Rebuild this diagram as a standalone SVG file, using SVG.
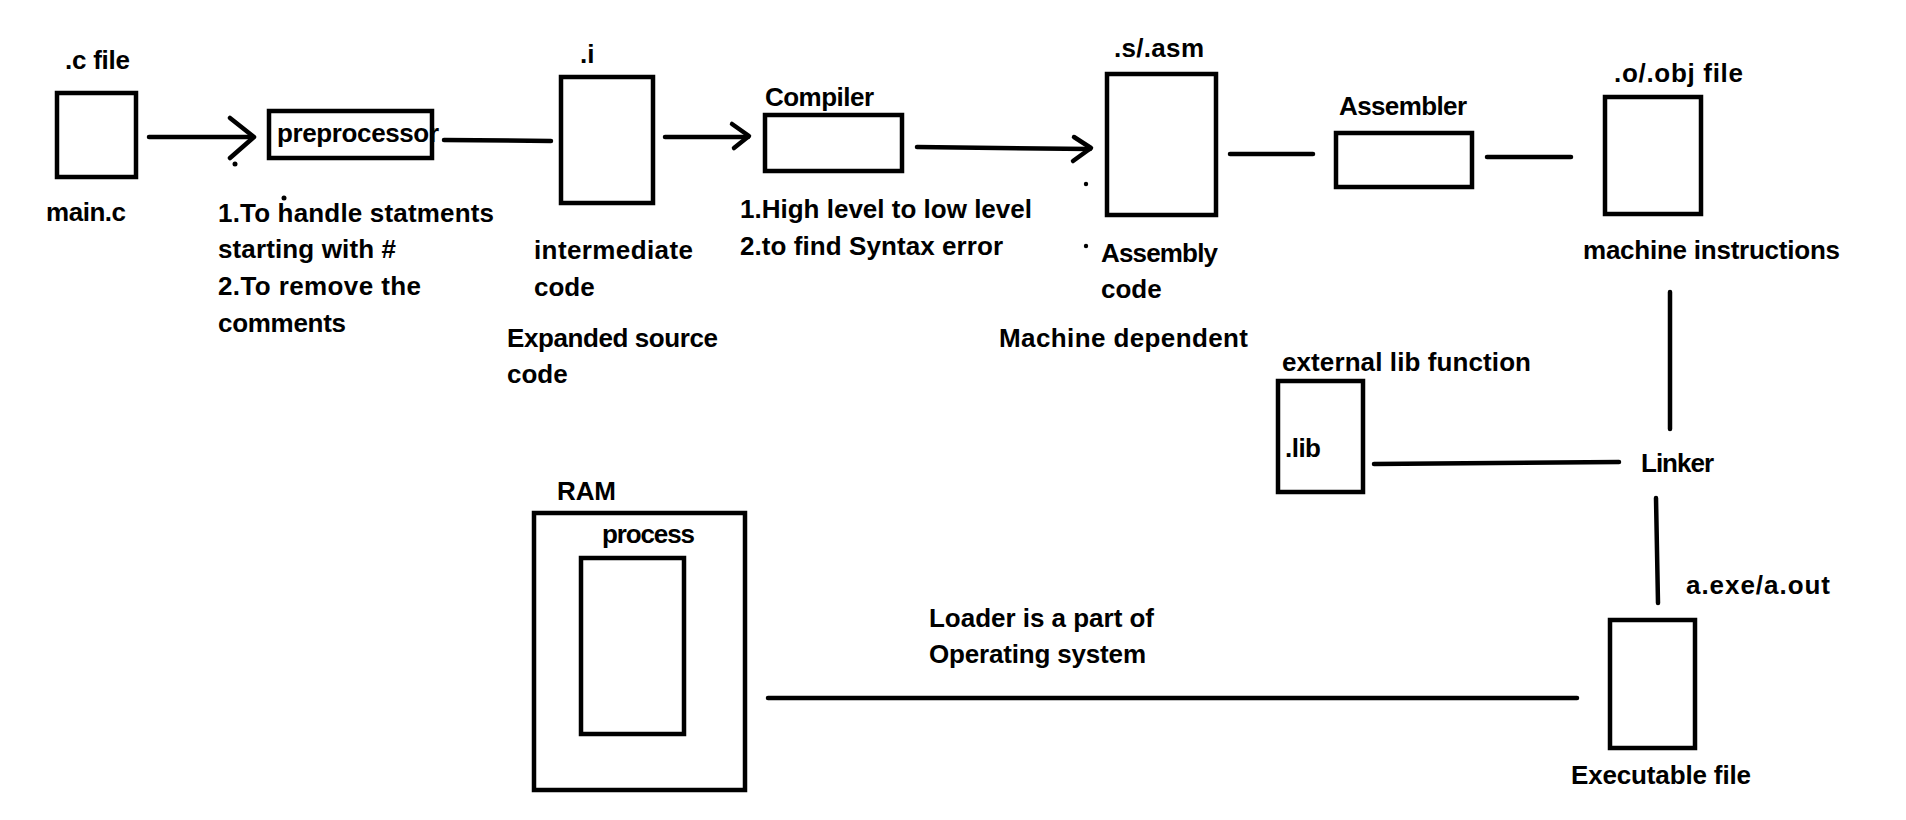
<svg xmlns="http://www.w3.org/2000/svg" width="1906" height="820" viewBox="0 0 1906 820">
<style>
  .bx{fill:none;stroke:#000;stroke-width:4.5}
  .ln{fill:none;stroke:#000;stroke-width:4.5;stroke-linecap:round;stroke-linejoin:round}
  text{font-family:"Liberation Sans",Arial,sans-serif;font-weight:bold;font-size:26px;fill:#000}
</style>
<rect width="1906" height="820" fill="#fff"/>

<g id="cfile">
  <text x="65" y="69" textLength="65">.c file</text>
  <rect class="bx" x="57" y="93" width="79" height="84"/>
  <text x="46" y="221" textLength="80">main.c</text>
</g>

<g id="preprocessor">
  <rect class="bx" x="269" y="111" width="163" height="47"/>
  <text x="277" y="142" textLength="162">preprocessor</text>
  <text x="218" y="222" textLength="276">1.To handle statments</text>
  <text x="218" y="258" textLength="178">starting with #</text>
  <text x="218" y="295" textLength="203">2.To remove the</text>
  <text x="218" y="332" textLength="128">comments</text>
</g>

<g id="ifile">
  <text x="580" y="63">.i</text>
  <rect class="bx" x="561" y="77" width="92" height="126"/>
  <text x="534" y="259" textLength="159">intermediate</text>
  <text x="534" y="296">code</text>
  <text x="507" y="347" textLength="211">Expanded source</text>
  <text x="507" y="383">code</text>
</g>

<g id="compiler">
  <text x="765" y="106" textLength="109">Compiler</text>
  <rect class="bx" x="765" y="115" width="137" height="56"/>
  <text x="740" y="218" textLength="292">1.High level to low level</text>
  <text x="740" y="255" textLength="263">2.to find Syntax error</text>
</g>

<g id="asmfile">
  <text x="1114" y="57" textLength="90">.s/.asm</text>
  <rect class="bx" x="1107" y="74" width="109" height="141"/>
  <text x="1101" y="262" textLength="117">Assembly</text>
  <text x="1101" y="298">code</text>
  <text x="999" y="347" textLength="249">Machine dependent</text>
</g>

<g id="assembler">
  <text x="1339" y="115" textLength="128">Assembler</text>
  <rect class="bx" x="1336" y="133" width="136" height="54"/>
</g>

<g id="objfile">
  <text x="1614" y="82" textLength="129">.o/.obj file</text>
  <rect class="bx" x="1605" y="97" width="96" height="117"/>
  <text x="1583" y="259" textLength="257">machine instructions</text>
</g>

<g id="lib">
  <text x="1282" y="371" textLength="249">external lib function</text>
  <rect class="bx" x="1278" y="381" width="85" height="111"/>
  <text x="1285" y="457" textLength="36">.lib</text>
</g>

<g id="linker">
  <text x="1641" y="472" textLength="73">Linker</text>
</g>

<g id="exefile">
  <text x="1686" y="594" textLength="144">a.exe/a.out</text>
  <rect class="bx" x="1610" y="620" width="85" height="128"/>
  <text x="1571" y="784" textLength="180">Executable file</text>
</g>

<g id="ram">
  <text x="557" y="500" textLength="59">RAM</text>
  <rect class="bx" x="534" y="513" width="211" height="277"/>
  <text x="602" y="543" textLength="93">process</text>
  <rect class="bx" x="581" y="558" width="103" height="176"/>
</g>

<g id="loader-label">
  <text x="929" y="627" textLength="225">Loader is a part of</text>
  <text x="929" y="663" textLength="217">Operating system</text>
</g>

<g id="connectors">
  <line class="ln" x1="149" y1="137" x2="253" y2="137"/>
  <polyline class="ln" points="230,118 254,137 230,158"/>
  <line class="ln" x1="444" y1="140" x2="551" y2="141"/>
  <line class="ln" x1="665" y1="137" x2="748" y2="137"/>
  <polyline class="ln" points="732,124 749,136 734,148"/>
  <line class="ln" x1="917" y1="147" x2="1090" y2="149"/>
  <polyline class="ln" points="1074,137 1091,148 1073,161"/>
  <line class="ln" x1="1230" y1="154" x2="1313" y2="154"/>
  <line class="ln" x1="1487" y1="157" x2="1571" y2="157"/>
  <line class="ln" x1="1670" y1="292" x2="1670" y2="429"/>
  <line class="ln" x1="1374" y1="464" x2="1619" y2="462"/>
  <line class="ln" x1="1656" y1="498" x2="1658" y2="603"/>
  <line class="ln" x1="768" y1="698" x2="1577" y2="698"/>
  <circle cx="235" cy="164" r="2.5"/>
  <circle cx="284" cy="198" r="2.5"/>
  <circle cx="1086" cy="184" r="2.2"/>
  <circle cx="1086" cy="246" r="2.2"/>
</g>
</svg>
